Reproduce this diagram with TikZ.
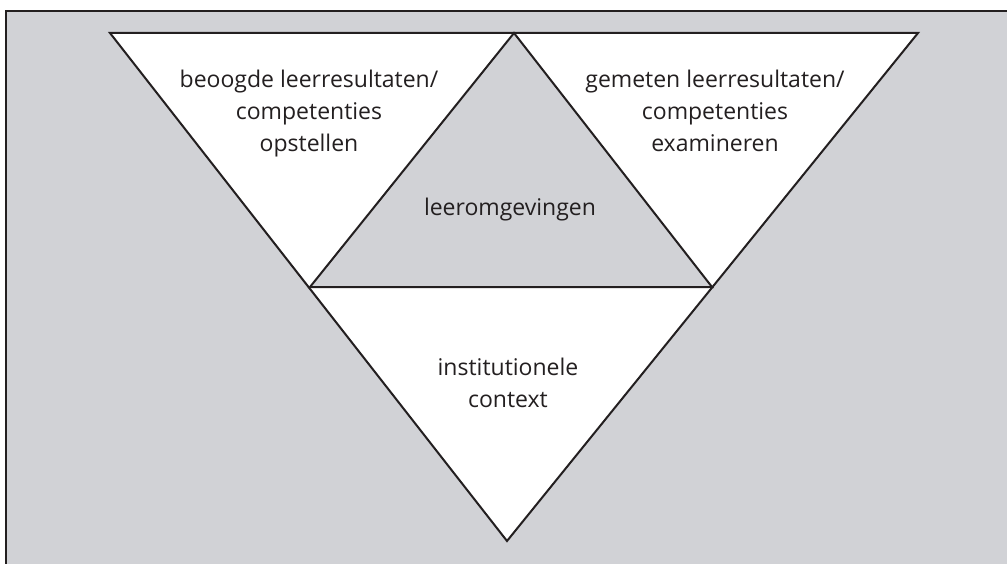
\documentclass[tikz,border=0pt]{standalone}
\usepackage{fontspec}
\setsansfont{Open Sans}
\definecolor{panel}{RGB}{209,210,214}
\definecolor{ink}{RGB}{35,31,32}
\begin{document}
\begin{tikzpicture}[x=1pt,y=-1pt,
  edge/.style={draw=ink,line width=2pt,line join=miter},
  label/.style={align=center,font=\sffamily\fontsize{23}{32}\selectfont,text=ink,inner sep=0pt}]
\useasboundingbox (0,0) rectangle (1007,564);
% background panel with frame on the top and left
\fill[panel] (6,11) rectangle (1030,600);
\draw[ink,line width=2.5pt] (6,600) -- (6,11) -- (1030,11);
% corner points of the large inverted triangle
\coordinate (tl) at (110,33);
\coordinate (tm) at (514,33);
\coordinate (tr) at (918,33);
\coordinate (ml) at (310,287);
\coordinate (mr) at (712,287);
\coordinate (bt) at (507,541);
% white outer triangles
\fill[white] (tl) -- (tm) -- (ml) -- cycle;
\fill[white] (tm) -- (tr) -- (mr) -- cycle;
\fill[white] (ml) -- (mr) -- (bt) -- cycle;
% outlines
\draw[edge] (tl) -- (tr) -- (bt) -- cycle;
\draw[edge] (ml) -- (tm) -- (mr) -- cycle;
% texts (base anchor sits on the last line)
\node[label,anchor=base] (goals) at (309,152) {beoogde leerresultaten/\\competenties\\opstellen};
\node[label,anchor=base] (exams) at (715,152) {gemeten leerresultaten/\\competenties\\examineren};
\node[label,anchor=base] (env) at (510,216) {leeromgevingen};
\node[label,anchor=base] (inst) at (508,407) {institutionele\\context};
\end{tikzpicture}
\end{document}
